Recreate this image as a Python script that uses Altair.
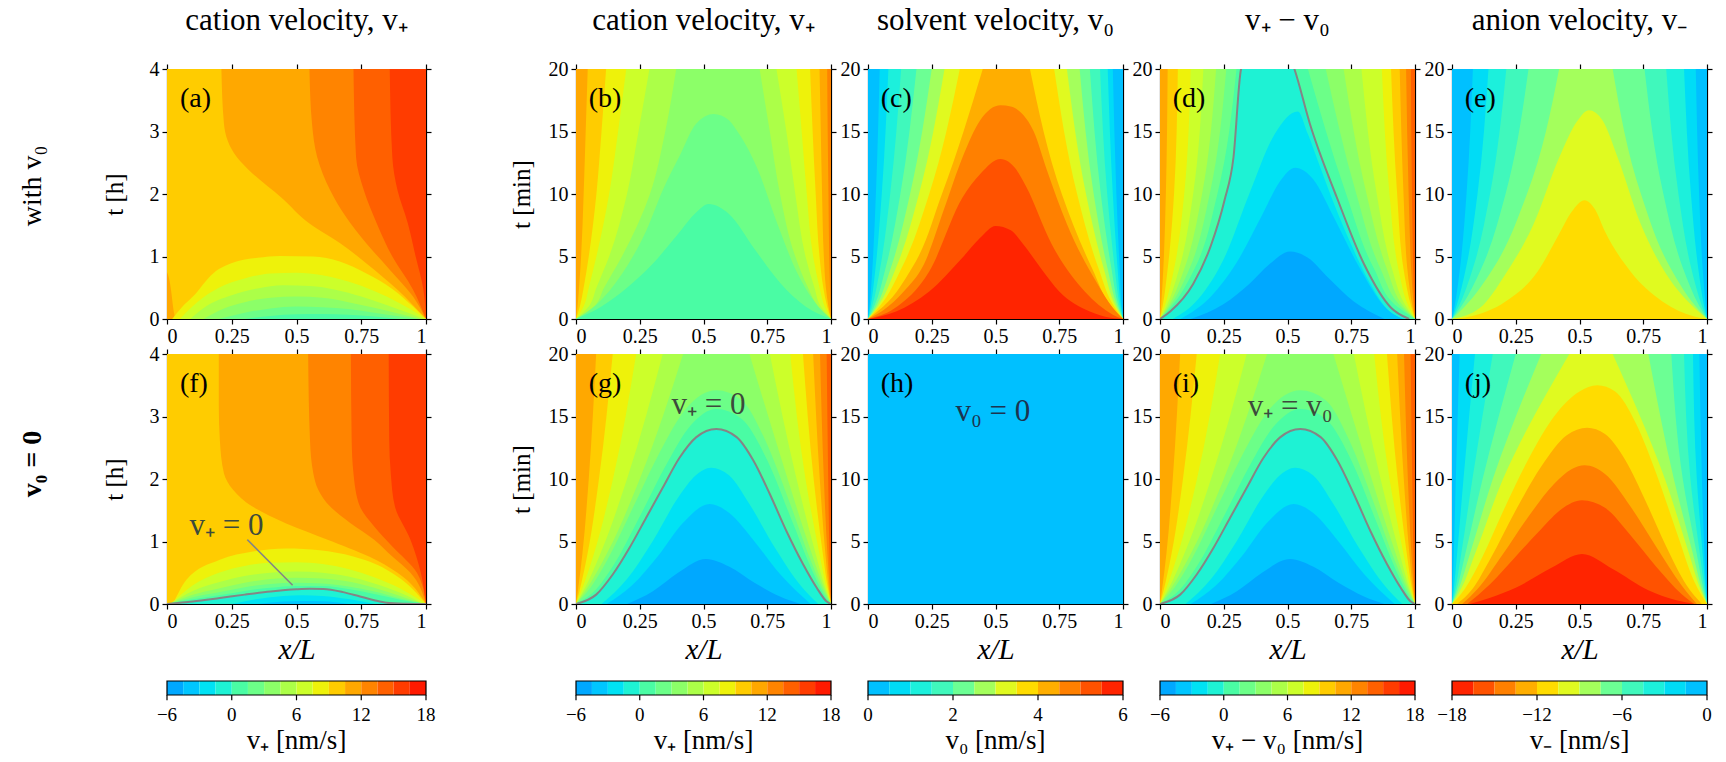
import altair as alt
import pandas as pd

FONT = "Liberation Serif"

# ---------------- palettes ----------------
VP_COLORS = ["#00a8ff", "#00c6ff", "#00e2f4", "#1ef2d4", "#4afca4", "#6cff88",
             "#8cff68", "#acff48", "#ccff2a", "#eef20a", "#ffcc00", "#ffa800",
             "#ff8400", "#ff6000", "#ff3c00", "#ff1a00"]
P12_COLORS = ["#00c0ff", "#00dcf6", "#1cf0dc", "#40f8bc", "#6cff94", "#a4ff5c",
              "#e0fa20", "#ffdc00", "#ffae00", "#ff8000", "#ff5200", "#ff2400"]
VM_COLORS = P12_COLORS[::-1]

VP_EDGES = [-6, -4.5, -3, -1.5, 0, 1.5, 3, 4.5, 6, 7.5, 9, 10.5, 12, 13.5, 15, 16.5, 18]
V0_EDGES = [0, 0.5, 1, 1.5, 2, 2.5, 3, 3.5, 4, 4.5, 5, 5.5, 6]
VM_EDGES = [-18, -16.5, -15, -13.5, -12, -10.5, -9, -7.5, -6, -4.5, -3, -1.5, 0]
VP_TICKS = [-6, 0, 6, 12, 18]
V0_TICKS = [0, 2, 4, 6]
VM_TICKS = [-18, -12, -6, 0]

X_TICKS = [0, 0.25, 0.5, 0.75, 1]
HOUR_TICKS = [0, 1, 2, 3, 4]
MIN_TICKS = [0, 5, 10, 15, 20]
T5 = [0, 1, 4, 10, 20]
T7 = [0, 1, 2.5, 5, 10, 15, 20]

# ---------------- contour regions ----------------
# ("band", level, t, x_left, x_right)  horizontal band, None = panel edge
# ("hump", level, x, t_top)            region below a curve
A_BG = 10
A_LAYERS = [
    ("band", 11, [0, 0.47, 0.89, 1.21, 1.53, 1.95, 2.33, 2.59, 3.12, 4],
     [1.0, 0.89, 0.77, 0.67, 0.55, 0.44, 0.33, 0.27, 0.22, 0.21], None),
    ("band", 12, [0, 0.36, 0.79, 1.21, 1.64, 2.06, 2.59, 3.12, 4],
     [1.0, 0.95, 0.86, 0.77, 0.69, 0.63, 0.58, 0.56, 0.55], None),
    ("band", 13, [0, 0.47, 1.0, 1.53, 2.06, 2.59, 4],
     [1.0, 0.95, 0.87, 0.81, 0.76, 0.73, 0.72], None),
    ("band", 14, [0, 0.47, 1.0, 1.53, 2.06, 2.59, 4],
     [1.0, 0.99, 0.96, 0.93, 0.89, 0.87, 0.86], None),
    ("hump", 11, [0, 0.008, 0.016, 0.025, 0.032], [0.75, 0.65, 0.45, 0.15, 0]),
    ("hump", 9, [0.02, 0.06, 0.1, 0.178, 0.268, 0.35, 0.436, 0.564, 0.667, 0.77, 0.874, 0.95, 1.0],
     [0, 0.2, 0.36, 0.73, 0.92, 0.98, 1.01, 1.0, 0.92, 0.73, 0.47, 0.2, 0]),
    ("hump", 8, [0.05, 0.12, 0.2, 0.3, 0.4, 0.5, 0.6, 0.7, 0.8, 0.9, 0.97, 1.0],
     [0, 0.28, 0.5, 0.65, 0.73, 0.74, 0.7, 0.6, 0.45, 0.25, 0.08, 0]),
    ("hump", 7, [0.09, 0.15, 0.25, 0.35, 0.45, 0.55, 0.65, 0.75, 0.85, 0.93, 0.99],
     [0, 0.2, 0.38, 0.49, 0.54, 0.53, 0.47, 0.36, 0.22, 0.1, 0]),
    ("hump", 6, [0.14, 0.22, 0.3, 0.4, 0.5, 0.6, 0.7, 0.8, 0.9, 0.98],
     [0, 0.17, 0.27, 0.34, 0.36, 0.34, 0.27, 0.18, 0.08, 0]),
    ("hump", 5, [0.2, 0.3, 0.4, 0.5, 0.6, 0.7, 0.8, 0.9, 0.97],
     [0, 0.1, 0.17, 0.2, 0.19, 0.16, 0.1, 0.04, 0]),
    ("hump", 4, [0.3, 0.4, 0.5, 0.6, 0.7, 0.8, 0.9], [0, 0.05, 0.075, 0.08, 0.07, 0.04, 0]),
]

F_ZERO_X = [0, 0.1, 0.204, 0.3, 0.4, 0.5, 0.55, 0.603, 0.68, 0.745, 0.8, 0.848, 0.92, 1]
F_ZERO_T = [0, 0.04, 0.096, 0.15, 0.2, 0.235, 0.243, 0.24, 0.19, 0.12, 0.06, 0.02, 0.005, 0]
F_BG = 10
F_LAYERS = [
    ("band", 11, [0, 0.5, 0.76, 1.03, 1.29, 1.56, 1.83, 2.09, 2.63, 3.16, 4],
     [1.0, 0.89, 0.78, 0.62, 0.46, 0.33, 0.255, 0.22, 0.204, 0.2, 0.2], None),
    ("band", 12, [0, 0.5, 0.76, 1.03, 1.29, 1.56, 1.83, 2.09, 2.63, 4],
     [1.0, 0.94, 0.87, 0.80, 0.71, 0.63, 0.584, 0.565, 0.552, 0.545], None),
    ("band", 13, [0, 0.5, 0.92, 1.24, 1.56, 2.09, 2.63, 4],
     [1.0, 0.965, 0.87, 0.80, 0.745, 0.72, 0.713, 0.71], None),
    ("band", 14, [0, 0.5, 1.03, 1.56, 2.09, 2.63, 4],
     [1.0, 0.98, 0.94, 0.88, 0.864, 0.858, 0.856], None),
    ("hump", 9, [0.023, 0.075, 0.204, 0.332, 0.461, 0.59, 0.719, 0.848, 0.951, 1.0],
     [0, 0.39, 0.71, 0.84, 0.89, 0.86, 0.76, 0.55, 0.23, 0]),
    ("hump", 8, [0.015, 0.1, 0.2, 0.3, 0.4, 0.5, 0.6, 0.7, 0.8, 0.9, 0.97, 1.0],
     [0, 0.3, 0.5, 0.61, 0.66, 0.67, 0.64, 0.56, 0.43, 0.25, 0.08, 0]),
    ("hump", 7, [0.01, 0.1, 0.2, 0.3, 0.4, 0.5, 0.6, 0.7, 0.8, 0.9, 0.99],
     [0, 0.21, 0.35, 0.45, 0.5, 0.52, 0.5, 0.44, 0.33, 0.18, 0]),
    ("hump", 6, [0.008, 0.1, 0.2, 0.3, 0.4, 0.5, 0.6, 0.7, 0.8, 0.9, 0.99],
     [0, 0.15, 0.25, 0.34, 0.4, 0.42, 0.41, 0.36, 0.26, 0.13, 0]),
    ("hump", 5, [0.005, 0.1, 0.2, 0.3, 0.4, 0.5, 0.6, 0.7, 0.8, 0.9, 1.0],
     [0, 0.11, 0.19, 0.27, 0.32, 0.34, 0.33, 0.28, 0.2, 0.09, 0]),
    ("hump", 4, [0, 0.1, 0.2, 0.3, 0.4, 0.5, 0.6, 0.7, 0.8, 0.9, 1.0],
     [0, 0.075, 0.14, 0.21, 0.26, 0.29, 0.29, 0.24, 0.16, 0.07, 0]),
    ("hump", 3, F_ZERO_X, F_ZERO_T),
    ("hump", 2, [0.25, 0.35, 0.45, 0.52, 0.6, 0.7, 0.8], [0, 0.08, 0.13, 0.14, 0.13, 0.08, 0]),
    ("hump", 1, [0.35, 0.45, 0.52, 0.6, 0.7], [0, 0.04, 0.05, 0.045, 0]),
]

B_BG = 12
B_LAYERS = [
    ("band", 11, T7, None, [1, 0.998, 0.996, 0.993, 0.99, 0.987, 0.985]),
    ("band", 10, T7, [0, 0.006, 0.012, 0.02, 0.03, 0.038, 0.046], [1, 0.99, 0.98, 0.972, 0.965, 0.96, 0.955]),
    ("band", 9, T7, [0, 0.015, 0.03, 0.05, 0.08, 0.1, 0.118], [1, 0.985, 0.97, 0.955, 0.94, 0.928, 0.918]),
    ("band", 8, T7, [0, 0.03, 0.05, 0.08, 0.13, 0.165, 0.197], [1, 0.975, 0.955, 0.93, 0.905, 0.885, 0.865]),
    ("band", 7, T7, [0, 0.05, 0.08, 0.13, 0.2, 0.245, 0.288], [1, 0.96, 0.935, 0.9, 0.86, 0.825, 0.786]),
    ("band", 6, T7, [0, 0.07, 0.11, 0.18, 0.29, 0.35, 0.393], [1, 0.95, 0.91, 0.86, 0.8, 0.76, 0.72]),
    ("hump", 5, [0, 0.08, 0.18, 0.275, 0.34, 0.41, 0.47, 0.54, 0.6, 0.63, 0.71, 0.79, 0.865, 0.944, 1],
     [0, 1.15, 3.6, 7.05, 10.3, 13.2, 15.6, 16.4, 15.9, 15.1, 12.1, 7.6, 3.8, 1.15, 0]),
    ("hump", 4, [0, 0.1, 0.2, 0.3, 0.4, 0.47, 0.52, 0.6, 0.7, 0.8, 0.9, 1],
     [0, 1.0, 2.5, 4.4, 6.8, 8.5, 9.2, 8.4, 5.6, 2.9, 1.0, 0]),
]

C_BG = 0
C_LAYERS = [
    ("band", 1, T5, [0, 0.006, 0.017, 0.031, 0.046], [1, 0.995, 0.987, 0.974, 0.96]),
    ("band", 2, T5, [0, 0.01, 0.029, 0.054, 0.08], [1, 0.992, 0.979, 0.96, 0.94]),
    ("band", 3, T5, [0, 0.016, 0.047, 0.087, 0.13], [1, 0.988, 0.968, 0.938, 0.91]),
    ("band", 4, T5, [0, 0.024, 0.068, 0.127, 0.19], [1, 0.983, 0.955, 0.913, 0.87]),
    ("band", 5, T5, [0, 0.031, 0.088, 0.165, 0.25], [1, 0.978, 0.94, 0.885, 0.83]),
    ("band", 6, T5, [0, 0.038, 0.108, 0.2, 0.30], [1, 0.972, 0.925, 0.855, 0.78]),
    ("band", 7, T5, [0, 0.045, 0.13, 0.24, 0.36], [1, 0.965, 0.905, 0.82, 0.73]),
    ("band", 8, T5, [0, 0.06, 0.17, 0.29, 0.45], [1, 0.955, 0.88, 0.76, 0.635]),
    ("hump", 9, [0, 0.06, 0.14, 0.22, 0.3, 0.37, 0.44, 0.52, 0.56, 0.61, 0.65, 0.7, 0.78, 0.9, 0.96, 1],
     [0, 0.7, 2.2, 4.4, 8.9, 12.9, 15.9, 17.1, 17.0, 16.3, 15.0, 12.0, 7.6, 2.8, 0.9, 0]),
    ("hump", 10, [0, 0.1, 0.24, 0.37, 0.44, 0.52, 0.58, 0.62, 0.72, 0.85, 0.96, 1],
     [0, 0.8, 3.8, 9.7, 11.6, 12.8, 12.0, 10.6, 6.0, 2.2, 0.35, 0]),
    ("hump", 11, [0, 0.11, 0.24, 0.37, 0.44, 0.5, 0.56, 0.608, 0.68, 0.75, 0.87, 0.95, 1],
     [0, 0.6, 2.2, 4.9, 6.5, 7.45, 7.1, 6.0, 4.0, 2.2, 0.6, 0.1, 0]),
]

D_ZERO_X = [0, 0.04, 0.13, 0.2, 0.253, 0.288, 0.318, 0.42, 0.527, 0.588, 0.694, 0.8, 0.906, 0.977]
D_ZERO_T = [0, 0.6, 2.8, 5.9, 9.5, 12.9, 20, 24, 20, 15.6, 9.7, 4.4, 0.9, 0]
D_BG = 13
D_LAYERS = [
    ("band", 12, T5, None, [1, 0.998, 0.993, 0.988, 0.984]),
    ("band", 11, T5, None, [1, 0.995, 0.985, 0.975, 0.965]),
    ("band", 10, T5, [0, 0.004, 0.013, 0.023, 0.03], [1, 0.99, 0.97, 0.955, 0.94]),
    ("band", 9, T5, [0, 0.01, 0.03, 0.055, 0.07], [1, 0.985, 0.955, 0.93, 0.906]),
    ("band", 8, T5, [0, 0.018, 0.055, 0.095, 0.12], [1, 0.975, 0.935, 0.9, 0.87]),
    ("band", 7, T5, [0, 0.025, 0.075, 0.13, 0.17], [1, 0.965, 0.91, 0.85, 0.79]),
    ("band", 6, T5, [0, 0.032, 0.095, 0.165, 0.22], [1, 0.955, 0.89, 0.81, 0.72]),
    ("band", 5, T5, [0, 0.038, 0.115, 0.195, 0.26], [1, 0.945, 0.865, 0.77, 0.65]),
    ("band", 4, T5, [0, 0.045, 0.135, 0.225, 0.30], [1, 0.93, 0.84, 0.73, 0.58]),
    ("hump", 3, D_ZERO_X, D_ZERO_T),
    ("hump", 2, [0.05, 0.15, 0.25, 0.35, 0.45, 0.54, 0.58, 0.62, 0.66, 0.74, 0.82, 0.9, 0.96],
     [0, 1.6, 4.8, 10.0, 14.8, 16.6, 14.8, 12.6, 10.4, 6.4, 3.0, 0.6, 0]),
    ("hump", 1, [0.08, 0.2, 0.3, 0.4, 0.47, 0.53, 0.6, 0.68, 0.78, 0.88, 0.95],
     [0, 1.8, 4.5, 8.3, 11.0, 12.1, 11.2, 8.2, 4.2, 1.0, 0]),
    ("hump", 0, [0.12, 0.25, 0.35, 0.43, 0.51, 0.58, 0.66, 0.76, 0.88],
     [0, 1.2, 2.8, 4.4, 5.4, 4.9, 3.3, 1.4, 0]),
]

E_BG = 0
E_LAYERS = [
    ("band", 1, T5, [0, 0.01, 0.031, 0.057, 0.082], [1, 0.995, 0.983, 0.969, 0.956]),
    ("band", 2, T5, [0, 0.017, 0.054, 0.1, 0.143], [1, 0.989, 0.966, 0.937, 0.91]),
    ("band", 3, T5, [0, 0.026, 0.081, 0.149, 0.213], [1, 0.981, 0.939, 0.888, 0.84]),
    ("band", 4, T5, [0, 0.036, 0.114, 0.21, 0.30], [1, 0.971, 0.907, 0.829, 0.755]),
    ("band", 5, T5, [0, 0.05, 0.16, 0.294, 0.42], [1, 0.956, 0.859, 0.741, 0.63]),
    ("hump", 6, [0, 0.11, 0.21, 0.32, 0.42, 0.49, 0.537, 0.59, 0.65, 0.74, 0.84, 0.95, 1],
     [0, 0.9, 3.6, 7.6, 12.9, 15.8, 16.7, 15.9, 12.9, 7.6, 3.6, 0.9, 0]),
    ("hump", 7, [0, 0.07, 0.21, 0.336, 0.42, 0.47, 0.52, 0.56, 0.6, 0.7, 0.825, 0.95, 1],
     [0, 0.2, 1.4, 3.8, 6.8, 8.6, 9.5, 8.8, 7.0, 3.8, 1.4, 0.2, 0]),
]

G_ZERO_X = [0, 0.079, 0.144, 0.21, 0.275, 0.34, 0.406, 0.472, 0.55, 0.63, 0.695, 0.76, 0.826, 0.89, 0.944, 0.983, 1]
G_ZERO_T = [0, 0.75, 2.36, 4.5, 6.9, 9.3, 11.7, 13.35, 14.0, 13.35, 11.5, 8.8, 5.8, 3.2, 1.3, 0.2, 0]
G_BG = 13
G_LAYERS = [
    ("band", 12, T5, None, [1, 0.998, 0.994, 0.989, 0.983]),
    ("band", 11, T5, None, [1, 0.996, 0.986, 0.972, 0.957]),
    ("band", 10, T5, [0, 0.007, 0.025, 0.05, 0.079], [1, 0.993, 0.978, 0.956, 0.93]),
    ("band", 9, T5, [0, 0.013, 0.045, 0.09, 0.144], [1, 0.99, 0.968, 0.932, 0.89]),
    ("band", 8, T5, [0, 0.02, 0.07, 0.145, 0.236], [1, 0.986, 0.955, 0.9, 0.84]),
    ("band", 7, T5, [0, 0.028, 0.095, 0.2, 0.34], [1, 0.982, 0.94, 0.865, 0.76]),
    ("band", 6, T5, [0, 0.035, 0.12, 0.25, 0.42], [1, 0.978, 0.925, 0.83, 0.68]),
    ("hump", 5, [0, 0.06, 0.13, 0.23, 0.33, 0.43, 0.55, 0.65, 0.74, 0.84, 0.92, 0.98, 1],
     [0, 1.4, 3.8, 8.0, 12.2, 15.6, 17.1, 16.3, 13.2, 8.0, 3.5, 0.7, 0]),
    ("hump", 4, [0, 0.08, 0.15, 0.25, 0.35, 0.45, 0.55, 0.65, 0.75, 0.85, 0.93, 0.98, 1],
     [0, 1.2, 3.2, 7.0, 11.0, 14.3, 15.6, 14.8, 11.5, 6.5, 2.5, 0.5, 0]),
    ("hump", 3, G_ZERO_X, G_ZERO_T),
    ("hump", 2, [0.1, 0.2, 0.3, 0.4, 0.47, 0.53, 0.6, 0.68, 0.78, 0.88, 0.95],
     [0, 2.0, 5.0, 8.5, 10.3, 10.9, 10.3, 8.0, 4.5, 1.5, 0]),
    ("hump", 1, [0.12, 0.22, 0.32, 0.42, 0.524, 0.6, 0.7, 0.8, 0.92],
     [0, 1.5, 3.8, 6.5, 8.0, 7.3, 5.0, 2.4, 0]),
    ("hump", 0, [0.2, 0.3, 0.4, 0.51, 0.6, 0.7, 0.8, 0.88], [0, 1.0, 2.5, 3.6, 3.0, 1.7, 0.6, 0]),
]

H_BG = 0
H_LAYERS = []

J_BG = 0
J_LAYERS = [
    ("band", 1, T5, [0, 0.002, 0.007, 0.015, 0.03], [1, 0.997, 0.99, 0.98, 0.97]),
    ("band", 2, T5, [0, 0.006, 0.02, 0.045, 0.09], [1, 0.995, 0.983, 0.96, 0.945]),
    ("band", 3, T5, [0, 0.011, 0.036, 0.08, 0.16], [1, 0.992, 0.972, 0.935, 0.91]),
    ("band", 4, T5, [0, 0.016, 0.052, 0.12, 0.25], [1, 0.988, 0.96, 0.905, 0.86]),
    ("band", 5, T5, [0, 0.022, 0.07, 0.16, 0.35], [1, 0.983, 0.945, 0.87, 0.77]),
    ("band", 6, T5, [0, 0.03, 0.09, 0.2, 0.46], [1, 0.978, 0.93, 0.835, 0.63]),
    ("hump", 7, [0, 0.05, 0.12, 0.2, 0.3, 0.4, 0.5, 0.57, 0.64, 0.72, 0.8, 0.88, 0.95, 1],
     [0, 1.2, 3.8, 7.4, 11.6, 15.0, 17.0, 17.5, 17.0, 14.5, 10.5, 5.8, 1.8, 0]),
    ("hump", 8, [0.02, 0.08, 0.15, 0.25, 0.35, 0.45, 0.53, 0.6, 0.68, 0.76, 0.84, 0.92, 0.98],
     [0, 1.2, 3.6, 7.5, 11.0, 13.5, 14.1, 13.6, 11.5, 8.2, 4.6, 1.5, 0]),
    ("hump", 9, [0.04, 0.1, 0.2, 0.3, 0.4, 0.47, 0.52, 0.6, 0.7, 0.8, 0.9, 0.96],
     [0, 1.2, 4.0, 7.0, 9.6, 10.8, 11.1, 10.4, 7.8, 4.6, 1.5, 0]),
    ("hump", 10, [0.06, 0.15, 0.25, 0.35, 0.43, 0.51, 0.6, 0.7, 0.8, 0.9, 0.95],
     [0, 1.6, 3.8, 6.0, 7.6, 8.3, 7.7, 5.5, 3.0, 0.8, 0]),
    ("hump", 11, [0.07, 0.15, 0.25, 0.39, 0.51, 0.63, 0.77, 0.88, 0.95],
     [0, 0.5, 1.3, 2.9, 4.0, 2.8, 1.1, 0.3, 0]),
]

F_LEADER_X = [0.31, 0.485]
F_LEADER_T = [1.03, 0.30]

# ---------------- sizes ----------------
W_A = 259
W = 255
PH = 250
SPACER_W = 76
# colour-bar cell: bar occupies [0, 1] of a [-4.43, 4] vertical range (1 unit ~ 14 px)
CB_H = 118
CB_YMIN, CB_YMAX = -4.43, 4.0
CB_TICK_LEN = 0.38
CB_LABEL_Y = -1.45
CB_TITLE_Y = -3.3


def xscale():
    return alt.Scale(domain=[0, 1], nice=False, zero=False)


def yscale(tmax):
    return alt.Scale(domain=[0, tmax], nice=False, zero=False)


def region(pal, tmax, spec):
    color = pal[spec[1]]
    if spec[0] == "band":
        _, _, t, lo, hi = spec
        n = len(t)
        df = pd.DataFrame({
            "t": t,
            "lo": lo if lo is not None else [0.0] * n,   # left panel edge
            "hi": hi if hi is not None else [1.0] * n,   # right panel edge
        })
        return alt.Chart(df).mark_area(orient="horizontal", interpolate="monotone",
                                       color=color, clip=True).encode(
            y=alt.Y("t:Q", scale=yscale(tmax), axis=None),
            x=alt.X("lo:Q", scale=xscale(), axis=None),
            x2=alt.X2("hi:Q"))
    _, _, x, h = spec
    df = pd.DataFrame({"x": x, "h": h, "b": [0.0] * len(x)})
    return alt.Chart(df).mark_area(orient="vertical", interpolate="monotone",
                                   color=color, clip=True).encode(
        x=alt.X("x:Q", scale=xscale(), axis=None),
        y=alt.Y("h:Q", scale=yscale(tmax), axis=None),
        y2=alt.Y2("b:Q"))


def curve(tmax, x, t, color="#858585", width=2.0, interp="monotone"):
    df = pd.DataFrame({"x": x, "t": t})
    return alt.Chart(df).mark_line(color=color, strokeWidth=width, interpolate=interp, clip=True).encode(
        x=alt.X("x:Q", scale=xscale(), axis=None), y=alt.Y("t:Q", scale=yscale(tmax), axis=None))


def label(tmax, x, t, s, size, color="black", align="left", weight="normal"):
    df = pd.DataFrame({"x": [x], "t": [t], "s": [s]})
    return alt.Chart(df).mark_text(font=FONT, fontSize=size, color=color, align=align,
                                   baseline="middle", fontWeight=weight).encode(
        x=alt.X("x:Q", scale=xscale(), axis=None), y=alt.Y("t:Q", scale=yscale(tmax), axis=None),
        text=alt.Text("s:N"))


def row_label(s, ypix, weight):
    return alt.Chart(pd.DataFrame({"s": [s]})).mark_text(
        font=FONT, fontSize=28, angle=270, fontWeight=weight, align="center", baseline="middle").encode(
        x=alt.value(-134), y=alt.value(ypix), text=alt.Text("s:N"))


def axes(tmax, yticks, ytitle, xtitle, ytitle_pad):
    df = pd.DataFrame({"x": [0, 1], "t": [0, tmax]})
    xa = dict(orient="bottom", values=X_TICKS, format=".2~f", labelPadding=2, titlePadding=4,
              titleFontSize=29, titleFontStyle="italic")
    xa["title"] = xtitle
    ya = dict(orient="left", values=yticks, format="~d", titlePadding=ytitle_pad)
    ya["title"] = ytitle
    main = alt.Chart(df).mark_point(opacity=0).encode(
        x=alt.X("x:Q", scale=xscale(), axis=alt.Axis(**xa)),
        y=alt.Y("t:Q", scale=yscale(tmax), axis=alt.Axis(**ya)))
    mirror = alt.Chart(df).mark_point(opacity=0).encode(
        x=alt.X("x:Q", scale=xscale(), axis=alt.Axis(orient="top", values=X_TICKS, labels=False, title=None)),
        y=alt.Y("t:Q", scale=yscale(tmax), axis=alt.Axis(orient="right", values=yticks, labels=False,
                                                          title=None)))
    return [main, mirror]


def panel(width, tmax, pal, bg, layers, yticks, ytitle, xtitle, tag, extras=(), title=None, ypad=14):
    parts = [region(pal, tmax, ("band", bg, [0, tmax], None, None))]
    parts += [region(pal, tmax, s) for s in layers]
    parts += list(extras)
    parts.append(label(tmax, 0.05, 0.88 * tmax, tag, 28))
    parts += axes(tmax, yticks, ytitle, xtitle, ypad)
    ch = alt.layer(*parts).properties(width=width, height=PH)
    if title is not None:
        ch = ch.properties(title=alt.TitleParams(text=title, fontSize=31, font=FONT,
                                                 fontWeight="normal", offset=22))
    return ch


def fmt_tick(v):
    s = f"{v:g}"
    return s.replace("-", "\u2212")


def colorbar(edges, colors, ticks, title, width):
    cs = alt.Scale(domain=[edges[0], edges[-1]], nice=False, zero=False)
    ys = alt.Scale(domain=[CB_YMIN, CB_YMAX], nice=False, zero=False)
    n = len(colors)
    df = pd.DataFrame({"lo": edges[:-1], "hi": edges[1:], "c": colors,
                       "y0": [0.0] * n, "y1": [1.0] * n})
    bar = alt.Chart(df).mark_rect().encode(
        x=alt.X("lo:Q", scale=cs, axis=None), x2=alt.X2("hi:Q"),
        y=alt.Y("y0:Q", scale=ys, axis=None), y2=alt.Y2("y1:Q"),
        color=alt.Color("c:N", scale=None))
    fdf = pd.DataFrame({"lo": [edges[0]], "hi": [edges[-1]], "y0": [0.0], "y1": [1.0]})
    frame = alt.Chart(fdf).mark_rect(filled=False, stroke="black", strokeWidth=1.2).encode(
        x=alt.X("lo:Q", scale=cs, axis=None), x2=alt.X2("hi:Q"),
        y=alt.Y("y0:Q", scale=ys, axis=None), y2=alt.Y2("y1:Q"))
    m = len(ticks)
    tdf = pd.DataFrame({"v": ticks, "y0": [-CB_TICK_LEN] * m, "y1": [0.0] * m,
                        "yl": [CB_LABEL_Y] * m, "s": [fmt_tick(v) for v in ticks]})
    tick_rules = alt.Chart(tdf).mark_rule(color="black", strokeWidth=1.2).encode(
        x=alt.X("v:Q", scale=cs, axis=None),
        y=alt.Y("y0:Q", scale=ys, axis=None), y2=alt.Y2("y1:Q"))
    tick_text = alt.Chart(tdf).mark_text(font=FONT, fontSize=19, baseline="middle", color="black").encode(
        x=alt.X("v:Q", scale=cs, axis=None), y=alt.Y("yl:Q", scale=ys, axis=None), text=alt.Text("s:N"))
    ttl = pd.DataFrame({"x": [(edges[0] + edges[-1]) / 2], "y": [CB_TITLE_Y], "s": [title]})
    title_text = alt.Chart(ttl).mark_text(font=FONT, fontSize=27, baseline="middle", color="black").encode(
        x=alt.X("x:Q", scale=cs, axis=None), y=alt.Y("y:Q", scale=ys, axis=None), text=alt.Text("s:N"))
    return alt.layer(bar, frame, tick_rules, tick_text, title_text).properties(width=width, height=CB_H)


def spacer(h):
    return alt.Chart(pd.DataFrame({"v": [0]})).mark_point(opacity=0).encode(
        x=alt.X("v:Q", axis=None), y=alt.Y("v:Q", axis=None)).properties(width=SPACER_W, height=h)


# ---------------- panels ----------------
pa = panel(W_A, 4, VP_COLORS, A_BG, A_LAYERS, HOUR_TICKS, "t [h]", None, "(a)",
           extras=[row_label("with v₀", 117, "normal")], title="cation velocity, v₊", ypad=22)
pb = panel(W, 20, VP_COLORS, B_BG, B_LAYERS, MIN_TICKS, "t [min]", None, "(b)",
           title="cation velocity, v₊")
pc = panel(W, 20, P12_COLORS, C_BG, C_LAYERS, MIN_TICKS, None, None, "(c)",
           title="solvent velocity, v₀")
pd_ = panel(W, 20, VP_COLORS, D_BG, D_LAYERS, MIN_TICKS, None, None, "(d)",
            extras=[curve(20, D_ZERO_X, D_ZERO_T)], title="v₊ − v₀")
pe = panel(W, 20, P12_COLORS, E_BG, E_LAYERS, MIN_TICKS, None, None, "(e)",
           title="anion velocity, v₋")

pf = panel(W_A, 4, VP_COLORS, F_BG, F_LAYERS, HOUR_TICKS, "t [h]", "x/L", "(f)",
           extras=[curve(4, F_ZERO_X, F_ZERO_T),
                   curve(4, F_LEADER_X, F_LEADER_T, width=1.6, interp="linear"),
                   label(4, 0.23, 1.25, "v₊ = 0", 31, color="#3c4a3c", align="center"),
                   row_label("v₀ = 0", 110, "bold")], ypad=22)
pg = panel(W, 20, VP_COLORS, G_BG, G_LAYERS, MIN_TICKS, "t [min]", "x/L", "(g)",
           extras=[curve(20, G_ZERO_X, G_ZERO_T),
                   label(20, 0.52, 15.9, "v₊ = 0", 31, color="#3c4a3c", align="center")])
ph = panel(W, 20, P12_COLORS, H_BG, H_LAYERS, MIN_TICKS, None, "x/L", "(h)",
           extras=[label(20, 0.49, 15.4, "v₀ = 0", 31, color="#1c3450", align="center")])
pi = panel(W, 20, VP_COLORS, G_BG, G_LAYERS, MIN_TICKS, None, "x/L", "(i)",
           extras=[curve(20, G_ZERO_X, G_ZERO_T),
                   label(20, 0.51, 15.8, "v₊ = v₀", 31, color="#3c4a3c", align="center")])
pj = panel(W, 20, P12_COLORS, J_BG, J_LAYERS, MIN_TICKS, None, "x/L", "(j)")

cba = colorbar(VP_EDGES, VP_COLORS, VP_TICKS, "v₊  [nm/s]", W_A)
cbb = colorbar(VP_EDGES, VP_COLORS, VP_TICKS, "v₊  [nm/s]", W)
cbc = colorbar(V0_EDGES, P12_COLORS, V0_TICKS, "v₀ [nm/s]", W)
cbd = colorbar(VP_EDGES, VP_COLORS, VP_TICKS, "v₊ − v₀ [nm/s]", W)
cbe = colorbar(VM_EDGES, VM_COLORS, VM_TICKS, "v₋  [nm/s]", W)

cells = [pa, spacer(PH), pb, pc, pd_, pe,
         pf, spacer(PH), pg, ph, pi, pj,
         cba, spacer(CB_H), cbb, cbc, cbd, cbe]

chart = alt.ConcatChart(concat=cells, columns=6, spacing={"row": 35, "column": 37},
                        bounds="flush", align="each",
                        padding={"left": 18, "top": 4, "right": 5, "bottom": 4})
chart = chart.configure_view(stroke="transparent").configure_axis(
    labelFont=FONT, titleFont=FONT, labelFontSize=20, titleFontSize=25, titleFontWeight="normal",
    labelColor="black", titleColor="black", tickColor="black", domainColor="black",
    domainWidth=1.2, tickWidth=1.2, tickSize=5, grid=False, zindex=1, labelPadding=3
).configure_title(font=FONT, color="black")

chart.save("out.html", embed_options={"renderer": "svg", "actions": False})
